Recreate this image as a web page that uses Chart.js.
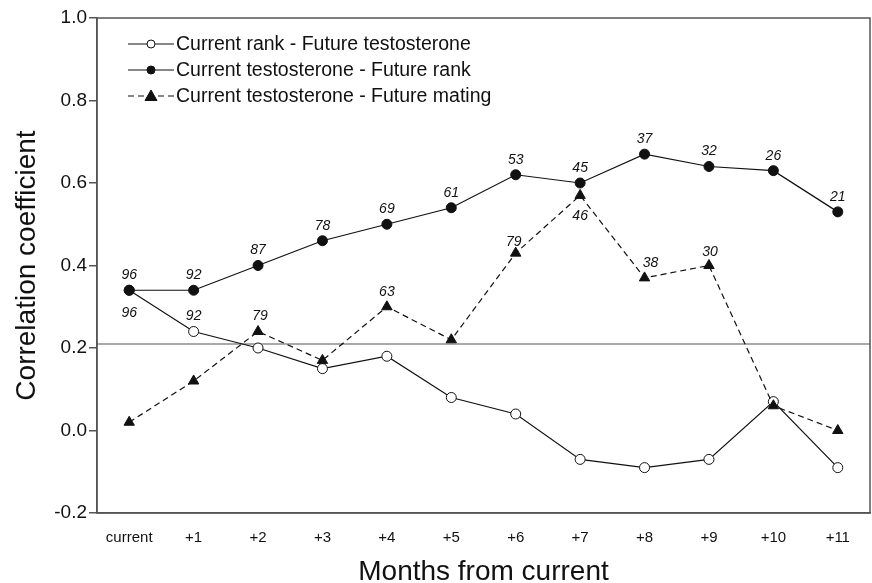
<!DOCTYPE html>
<html>
<head>
<meta charset="utf-8">
<title>Correlation coefficient by months from current</title>
<script src="https://cdn.jsdelivr.net/npm/chart.js@4.4.1/dist/chart.umd.min.js"></script>
<style>
  html, body { margin: 0; padding: 0; background: #fff; }
  #wrap { width: 872px; height: 583px; }
</style>
</head>
<body>
<div id="wrap"><canvas id="chart" width="872" height="583"></canvas></div>
<script>
// Data
const months = ["current", "+1", "+2", "+3", "+4", "+5", "+6", "+7", "+8", "+9", "+10", "+11"];

const rankToTestosterone = [0.34, 0.24, 0.20, 0.15, 0.18, 0.08, 0.04, -0.07, -0.09, -0.07, 0.07, -0.09];
const testosteroneToRank = [0.34, 0.34, 0.40, 0.46, 0.50, 0.54, 0.62, 0.60, 0.67, 0.64, 0.63, 0.53];
const testosteroneToMating = [0.02, 0.12, 0.24, 0.17, 0.30, 0.22, 0.43, 0.57, 0.37, 0.40, 0.06, 0.00];

// sample sizes printed next to the points (null = no label)
const rankToTestosteroneN = [96, 92, null, null, null, null, null, null, null, null, null, null];
const testosteroneToRankN = [96, 92, 87, 78, 69, 61, 53, 45, 37, 32, 26, 21];
const testosteroneToMatingN = [null, null, 79, null, 63, null, 79, 46, 38, 30, null, null];

const yTicks = [-0.2, 0.0, 0.2, 0.4, 0.6, 0.8, 1.0];
const referenceLine = 0.21;

const FONT = "'Liberation Sans', Arial, Helvetica, sans-serif";

// Little plugin: frame, reference line, legend and the n labels.
const decorations = {
  id: "decorations",
  beforeDatasetsDraw(chart) {
    const { ctx, chartArea: a, scales } = chart;
    const yRef = scales.y.getPixelForValue(referenceLine);
    ctx.save();
    ctx.strokeStyle = "#8c8c8c";
    ctx.lineWidth = 1.5;
    ctx.beginPath();
    ctx.moveTo(a.left, yRef);
    ctx.lineTo(a.right, yRef);
    ctx.stroke();
    ctx.restore();
  },
  afterDatasetsDraw(chart) {
    const { ctx, chartArea: a } = chart;
    ctx.save();

    // frame round the plot
    ctx.strokeStyle = "#555";
    ctx.lineWidth = 1.5;
    ctx.strokeRect(a.left, a.top, a.right - a.left, a.bottom - a.top);

    // n labels
    ctx.fillStyle = "#111";
    ctx.font = "italic 14px " + FONT;
    ctx.textAlign = "center";
    ctx.textBaseline = "middle";
    chart.data.datasets.forEach((ds, i) => {
      const meta = chart.getDatasetMeta(i);
      ds.nLabels.forEach((n, j) => {
        if (n === null) return;
        const pt = meta.data[j];
        const place = (ds.nPlace && ds.nPlace[j]) || [0, -15];
        ctx.fillText(String(n), pt.x + place[0], pt.y + place[1]);
      });
    });

    // legend inside the plot, top-left
    ctx.font = "19.5px " + FONT;
    ctx.textAlign = "left";
    ctx.textBaseline = "middle";
    chart.data.datasets.forEach((ds, i) => {
      const y = a.top + 26 + i * 26;
      const x0 = a.left + 31;
      const x1 = x0 + 46;
      ctx.strokeStyle = "#111";
      ctx.lineWidth = 1.2;
      ctx.setLineDash(ds.borderDash || []);
      ctx.beginPath();
      ctx.moveTo(x0, y);
      ctx.lineTo(x1, y);
      ctx.stroke();
      ctx.setLineDash([]);
      const cx = (x0 + x1) / 2;
      ctx.fillStyle = ds.pointBackgroundColor;
      ctx.beginPath();
      if (ds.pointStyle === "triangle") {
        ctx.moveTo(cx, y - 6);
        ctx.lineTo(cx + 6, y + 4.5);
        ctx.lineTo(cx - 6, y + 4.5);
        ctx.closePath();
      } else {
        ctx.arc(cx, y, 4, 0, Math.PI * 2);
      }
      ctx.fill();
      ctx.lineWidth = 1;
      ctx.stroke();
      ctx.fillStyle = "#111";
      ctx.fillText(ds.label, x1 + 2, y + 1);
    });
    ctx.restore();
  }
};

const ctx = document.getElementById("chart").getContext("2d");

new Chart(ctx, {
  type: "line",
  data: {
    labels: months,
    datasets: [
      {
        label: "Current rank - Future testosterone",
        data: rankToTestosterone,
        nLabels: rankToTestosteroneN,
        nPlace: { 0: [0, 23], 1: [0, -15] },
        borderColor: "#111",
        borderWidth: 1.2,
        pointStyle: "circle",
        pointRadius: 5,
        pointBackgroundColor: "#fff",
        pointBorderColor: "#111",
        pointBorderWidth: 1,
        order: 3,
      },
      {
        label: "Current testosterone - Future rank",
        data: testosteroneToRank,
        nLabels: testosteroneToRankN,
        borderColor: "#111",
        borderWidth: 1.2,
        pointStyle: "circle",
        pointRadius: 5,
        pointBackgroundColor: "#111",
        pointBorderColor: "#111",
        pointBorderWidth: 1,
        order: 2,
      },
      {
        label: "Current testosterone - Future mating",
        data: testosteroneToMating,
        nLabels: testosteroneToMatingN,
        nPlace: { 2: [2, -15], 6: [-2, -11], 7: [0, 21], 8: [6, -15], 9: [1, -13] },
        borderColor: "#111",
        borderWidth: 1.2,
        borderDash: [6, 4],
        pointStyle: "triangle",
        pointRadius: 6,
        pointBackgroundColor: "#111",
        pointBorderColor: "#111",
        pointBorderWidth: 1,
        order: 1,
      },
    ],
  },
  options: {
    responsive: false,
    animation: false,
    devicePixelRatio: 1,
    layout: { autoPadding: false, padding: { top: 18, right: 2, left: 0, bottom: 0 } },
    plugins: {
      legend: { display: false },
      tooltip: { enabled: false },
    },
    scales: {
      x: {
        type: "category",
        offset: true,
        grid: { display: false, drawTicks: false },
        border: { display: true, color: "#555", width: 1.5 },
        ticks: {
          color: "#111",
          padding: 16,
          maxRotation: 0,
          autoSkip: false,
          font: { family: FONT, size: 15 },
        },
        title: {
          display: true,
          text: "Months from current",
          color: "#111",
          font: { family: FONT, size: 28 },
          padding: { top: 0, bottom: -6 },
        },
        afterFit(scale) {
          scale.height = 70;
          scale.paddingLeft = 0;
          scale.paddingRight = 0;
        },
      },
      y: {
        min: -0.2,
        max: 1.0,
        afterBuildTicks(scale) { scale.ticks = yTicks.map((v) => ({ value: v })); },
        grid: { display: true, drawOnChartArea: false, drawTicks: true, tickLength: 8, color: "#555", lineWidth: 1.5 },
        border: { display: true, color: "#555", width: 1.5 },
        ticks: {
          color: "#111",
          padding: 2,
          font: { family: FONT, size: 19 },
          callback: (v) => Number(v).toFixed(1),
        },
        title: {
          display: true,
          text: "Correlation coefficient",
          color: "#111",
          font: { family: FONT, size: 28 },
          padding: { top: 10, bottom: 0 },
        },
        afterFit(scale) { scale.width = 97; },
      },
    },
  },
  plugins: [decorations],
});
</script>
</body>
</html>
